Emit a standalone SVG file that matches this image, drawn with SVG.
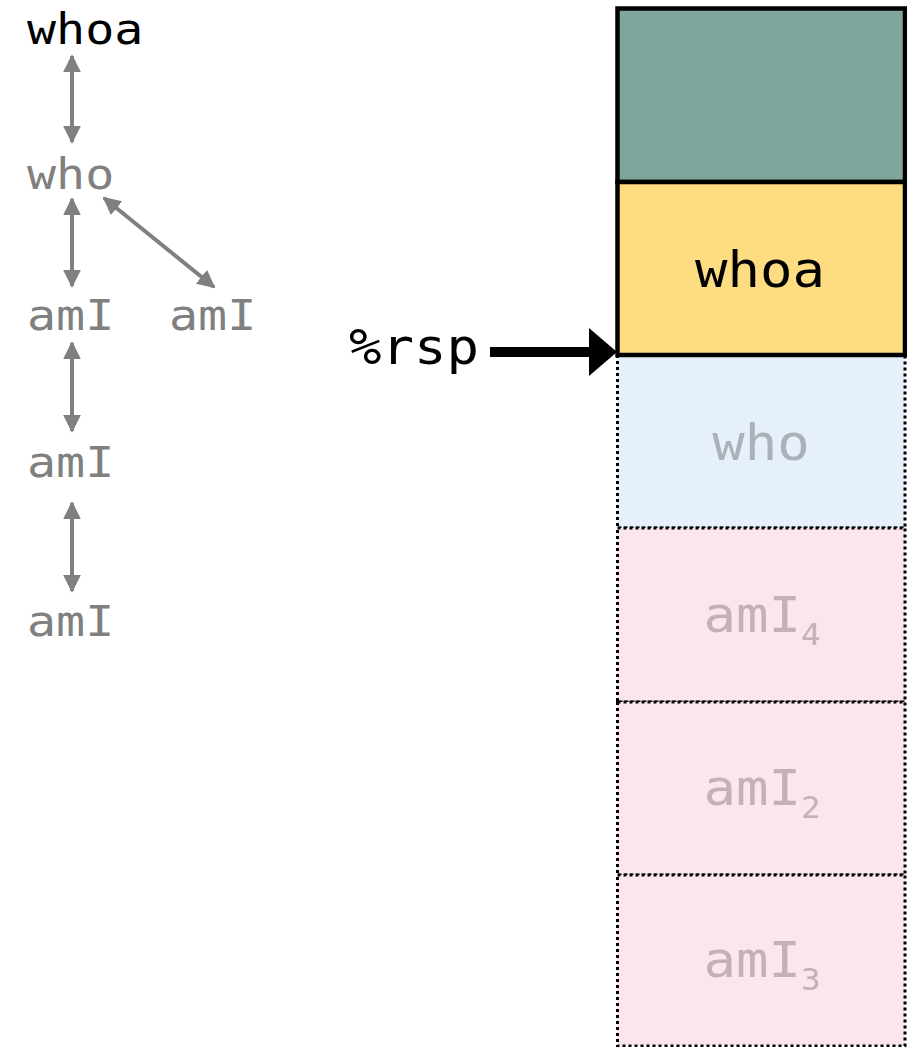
<svg xmlns="http://www.w3.org/2000/svg" width="907" height="1047" viewBox="0 0 907 1047">
<style>
.t{font-family:"DejaVu Sans Mono","Liberation Mono",monospace;}
.lt{font-size:42px;fill:#808080;}
.rt{font-size:50px;}
.sub{font-size:30px;}
.con{stroke:#808080;stroke-width:4;fill:none;marker-start:url(#ah);marker-end:url(#ah);}
.solid{stroke:#000;stroke-width:4.5;}
.dot{stroke:#000;stroke-width:3;stroke-dasharray:3 3;}
</style>
<defs>
<marker id="ah" viewBox="0 0 10 10" refX="9" refY="5" markerWidth="4.5" markerHeight="4.5" orient="auto-start-reverse" markerUnits="strokeWidth">
<path d="M0,0 L10,5 L0,10 z" fill="#808080"/>
</marker>
</defs>

<g id="tree-whoa"><text class="t lt" transform="translate(27,44) scale(1.15,1)" style="fill:#000">whoa</text></g>
<g id="tree-who"><text class="t lt" transform="translate(27,189) scale(1.15,1)">who</text></g>
<g id="tree-amI-1"><text class="t lt" transform="translate(27,330) scale(1.15,1)">amI</text></g>
<g id="tree-amI-2"><text class="t lt" transform="translate(169,330) scale(1.15,1)">amI</text></g>
<g id="tree-amI-3"><text class="t lt" transform="translate(27,477) scale(1.15,1)">amI</text></g>
<g id="tree-amI-4"><text class="t lt" transform="translate(27,636) scale(1.15,1)">amI</text></g>

<g id="connectors">
<line class="con" x1="72" y1="56" x2="72" y2="142"/>
<line class="con" x1="72" y1="199" x2="72" y2="286"/>
<line class="con" x1="104" y1="198" x2="214" y2="287"/>
<line class="con" x1="72" y1="343" x2="72" y2="431"/>
<line class="con" x1="72" y1="503" x2="72" y2="591"/>
<line x1="490" y1="352" x2="592" y2="352" stroke="#000" stroke-width="10"/>
<path d="M589,328 L617,352 L589,376 z" fill="#000"/>
</g>

<g id="stack-who">
<rect class="dot" x="617.5" y="355" width="287.5" height="173" fill="#e6f0fa"/>
<text class="t rt" text-anchor="middle" transform="translate(761,460) scale(1.08,1)" fill="#a8b2b8">who</text>
</g>
<g id="stack-amI4">
<rect class="dot" x="617.5" y="528" width="287.5" height="174" fill="#fae6ec"/>
<text class="t rt" text-anchor="middle" transform="translate(762,632) scale(1.08,1)" fill="#c2b1b7">amI<tspan class="sub" dy="13">4</tspan></text>
</g>
<g id="stack-amI2">
<rect class="dot" x="617.5" y="702" width="287.5" height="173" fill="#fae6ec"/>
<text class="t rt" text-anchor="middle" transform="translate(762,805) scale(1.08,1)" fill="#c2b1b7">amI<tspan class="sub" dy="13">2</tspan></text>
</g>
<g id="stack-amI3">
<rect class="dot" x="617.5" y="875" width="287.5" height="171" fill="#fae6ec"/>
<text class="t rt" text-anchor="middle" transform="translate(762,977) scale(1.08,1)" fill="#c2b1b7">amI<tspan class="sub" dy="13">3</tspan></text>
</g>
<g id="stack-top">
<rect class="solid" x="617.5" y="8.5" width="287.5" height="173.5" fill="#7fa69c"/>
</g>
<g id="stack-whoa">
<rect class="solid" x="617.5" y="182" width="287.5" height="173" fill="#fddc82"/>
<text class="t rt" text-anchor="middle" transform="translate(760,287) scale(1.08,1)" fill="#000">whoa</text>
</g>
<g id="rsp-label"><text class="t rt" transform="translate(349,364) scale(1.08,1)" fill="#000">%rsp</text></g>
</svg>
